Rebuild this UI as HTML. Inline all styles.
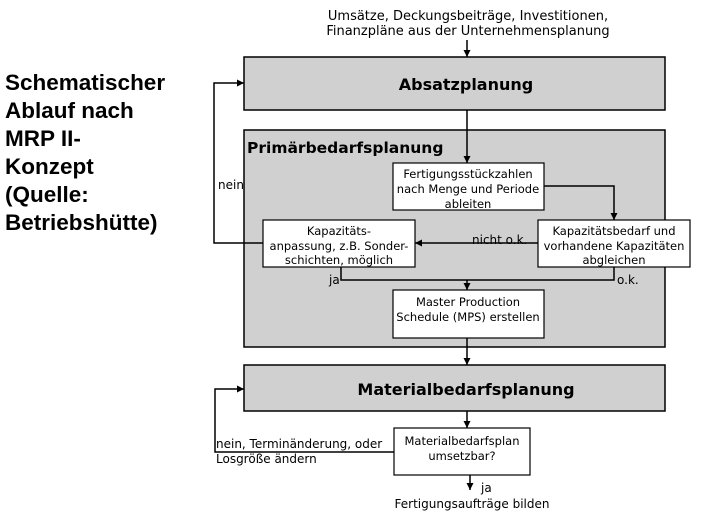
<!DOCTYPE html>
<html><head><style>
body{margin:0;background:#fff;}
svg text{font-family:"DejaVu Sans","Liberation Sans",sans-serif;}
</style></head><body>
<svg width="702" height="516" xmlns="http://www.w3.org/2000/svg">
<defs><marker id="a" markerWidth="8" markerHeight="8" refX="7" refY="4" orient="auto" markerUnits="userSpaceOnUse"><path d="M0,0.5 L7,4 L0,7.5z" fill="#000"/></marker></defs>
<g font-size="13" text-anchor="middle">
<text x="468" y="20">Umsätze, Deckungsbeiträge, Investitionen,</text>
<text x="468" y="35">Finanzpläne aus der Unternehmensplanung</text>
</g>
<g font-size="22.5">
<text x="5" y="90" style="font-family:'Liberation Sans',sans-serif;font-weight:bold">Schematischer</text>
<text x="5" y="118" style="font-family:'Liberation Sans',sans-serif;font-weight:bold">Ablauf nach</text>
<text x="5" y="146" style="font-family:'Liberation Sans',sans-serif;font-weight:bold">MRP II-</text>
<text x="5" y="174" style="font-family:'Liberation Sans',sans-serif;font-weight:bold">Konzept</text>
<text x="5" y="202" style="font-family:'Liberation Sans',sans-serif;font-weight:bold">(Quelle:</text>
<text x="5" y="230" style="font-family:'Liberation Sans',sans-serif;font-weight:bold">Betriebshütte)</text>
</g>
<g stroke="#000" stroke-width="1.5" fill="#d0d0d0">
<rect x="244" y="57" width="421" height="53"/>
<rect x="244" y="130" width="421" height="217"/>
<rect x="244" y="365" width="421" height="46"/>
</g>
<g stroke="#000" stroke-width="1.2" fill="#fff">
<rect x="393" y="163" width="151" height="47"/>
<rect x="263" y="220" width="152" height="47"/>
<rect x="538" y="220" width="152" height="47"/>
<rect x="393" y="290" width="151" height="48"/>
<rect x="394" y="428" width="136" height="47"/>
</g>
<g font-weight="bold" text-anchor="middle">
<text x="466" y="90" font-size="16">Absatzplanung</text>
<text x="466" y="395" font-size="16">Materialbedarfsplanung</text>
</g>
<text x="247" y="153" font-size="15.5" font-weight="bold">Primärbedarfsplanung</text>
<g font-size="11.5" text-anchor="middle">
<text x="468" y="178">Fertigungsstückzahlen</text>
<text x="468" y="193">nach Menge und Periode</text>
<text x="468" y="208">ableiten</text>
<text x="339" y="235">Kapazitäts-</text>
<text x="339" y="250">anpassung, z.B. Sonder-</text>
<text x="339" y="264">schichten, möglich</text>
<text x="614" y="235">Kapazitätsbedarf und</text>
<text x="614" y="250">vorhandene Kapazitäten</text>
<text x="614" y="264">abgleichen</text>
<text x="468" y="306">Master Production</text>
<text x="468" y="321">Schedule (MPS) erstellen</text>
<text x="462" y="445">Materialbedarfsplan</text>
<text x="462" y="460">umsetzbar?</text>
</g>
<text x="472" y="508" font-size="12" text-anchor="middle">Fertigungsaufträge bilden</text>
<g font-size="12">
<text x="218" y="189">nein</text>
<text x="472" y="244">nicht o.k.</text>
<text x="329" y="284">ja</text>
<text x="617" y="284">o.k.</text>
<text x="216" y="448">nein, Terminänderung, oder</text>
<text x="216" y="463">Losgröße ändern</text>
<text x="481" y="492">ja</text>
</g>
<g stroke="#000" stroke-width="1.5" fill="none">
<line x1="467" y1="40" x2="467" y2="57" marker-end="url(#a)"/>
<line x1="467" y1="110" x2="467" y2="163" marker-end="url(#a)"/>
<polyline points="544,186 614,186 614,220" marker-end="url(#a)"/>
<line x1="538" y1="243" x2="415" y2="243" marker-end="url(#a)"/>
<polyline points="263,243 214,243 214,83 244,83" marker-end="url(#a)"/>
<polyline points="341,267 341,280 614,280 614,267"/>
<line x1="467" y1="280" x2="467" y2="290" marker-end="url(#a)"/>
<line x1="467" y1="338" x2="467" y2="365" marker-end="url(#a)"/>
<line x1="467" y1="411" x2="467" y2="428" marker-end="url(#a)"/>
<polyline points="394,452 215,452 215,389 244,389" marker-end="url(#a)"/>
<line x1="470" y1="475" x2="470" y2="490" marker-end="url(#a)"/>
</g>
</svg>
</body></html>
